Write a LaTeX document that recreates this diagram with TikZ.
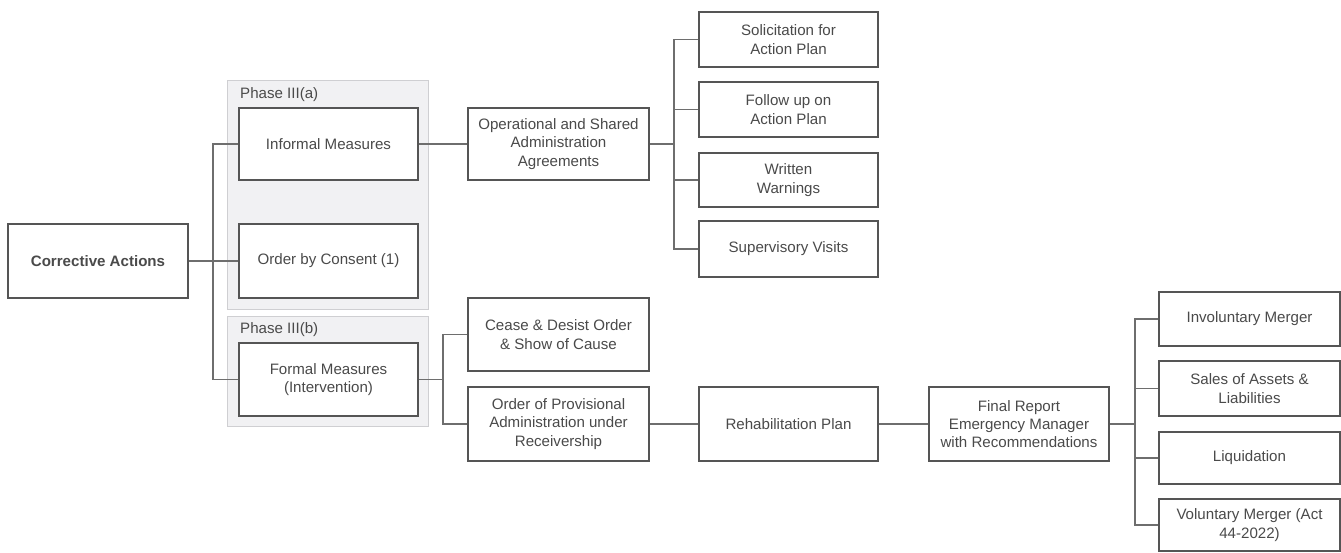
\documentclass[tikz,border=0pt]{standalone}
\usepackage{fontspec}
\setmainfont{Liberation Sans}
\usetikzlibrary{positioning}
\definecolor{boxline}{HTML}{555555}
\definecolor{conline}{HTML}{6E6E6E}
\definecolor{txt}{HTML}{4A4A4A}
\definecolor{phasefill}{HTML}{F1F1F3}
\definecolor{phaseline}{HTML}{CFCFD2}
\begin{document}
\begin{tikzpicture}[x=1pt,y=-1pt,
    font=\fontsize{15.1}{18.4}\selectfont,
    box/.style={draw=boxline, line width=1.3pt, fill=white, text=txt, align=center,
      inner sep=2pt, minimum width=180pt, minimum height=74pt},
    smallbox/.style={box, minimum height=55pt},
    phase/.style={draw=phaseline, line width=1pt, fill=phasefill},
    phaselabel/.style={text=txt, anchor=west, inner sep=0pt},
    con/.style={draw=conline, line width=1.3pt}]
  \useasboundingbox (0,0) rectangle (1341,552);

  % phase panels
  \draw[phase] (227,80) rectangle (428,309);
  \draw[phase] (227,316) rectangle (428,426);
  \node[phaselabel] (pa) at (240,95) {Phase III(a)};
  \node[phaselabel] (pb) at (240,330) {Phase III(b)};

  % first column
  \node[box] (ca) at (98,261) {\textbf{Corrective Actions}};
  \node[box, minimum width=179pt, minimum height=72pt] (inf) at (328.5,144) {Informal Measures};
  \node[box, minimum width=179pt] (obc) at (328.5,261) {Order by Consent (1)};
  \node[box, minimum width=179pt, minimum height=73pt] (frm) at (328.5,379.5) {Formal Measures\\(Intervention)};

  % second column
  \node[box, minimum width=181pt, minimum height=72pt] (osa) at (558.5,144) {Operational and Shared\\Administration\\Agreements};
  \node[box, minimum width=181pt, minimum height=73pt] (cdo) at (558.5,334.5) {Cease \& Desist Order\\\& Show of Cause};
  \node[box, minimum width=181pt] (opa) at (558.5,424) {Order of Provisional\\Administration under\\Receivership};

  % third column
  \node[smallbox, minimum width=179pt] (sol) at (788.5,39.5) {Solicitation for\\Action Plan};
  \node[smallbox, minimum width=179pt] (fol) at (788.5,109.5) {Follow up on\\Action Plan};
  \node[smallbox, minimum width=179pt, minimum height=54pt] (wrn) at (788.5,180) {Written\\Warnings};
  \node[smallbox, minimum width=179pt, minimum height=56pt] (sup) at (788.5,249) {Supervisory Visits};
  \node[box, minimum width=179pt] (reh) at (788.5,424) {Rehabilitation Plan};

  % fourth and fifth column
  \node[box] (fin) at (1019,424) {Final Report\\Emergency Manager\\with Recommendations};
  \node[smallbox, minimum width=181pt, minimum height=54pt] (inv) at (1249.5,319) {Involuntary Merger};
  \node[smallbox, minimum width=181pt] (sal) at (1249.5,388.5) {Sales of Assets \&\\Liabilities};
  \node[smallbox, minimum width=181pt, minimum height=52pt] (liq) at (1249.5,458) {Liquidation};
  \node[smallbox, minimum width=181pt, minimum height=52pt] (vol) at (1249.5,525) {Voluntary Merger (Act\\44-2022)};

  % branch points
  \coordinate (t1) at (213,261);
  \coordinate (t2) at (674,144);
  \coordinate (t3) at (443,379.5);
  \coordinate (t4) at (1135,424);

  % connectors
  \draw[con] (ca.east) -- (t1) |- (inf.west);
  \draw[con] (t1) -- (obc.west);
  \draw[con] (t1) |- (frm.west);
  \draw[con] (inf.east) -- (osa.west);
  \draw[con] (osa.east) -- (t2) |- (sol.west);
  \draw[con] (t2) |- (fol.west);
  \draw[con] (t2) |- (wrn.west);
  \draw[con] (t2) |- (sup.west);
  \draw[con] (frm.east) -- (t3) |- (cdo.west);
  \draw[con] (t3) |- (opa.west);
  \draw[con] (opa.east) -- (reh.west);
  \draw[con] (reh.east) -- (fin.west);
  \draw[con] (fin.east) -- (t4) |- (inv.west);
  \draw[con] (t4) |- (sal.west);
  \draw[con] (t4) |- (liq.west);
  \draw[con] (t4) |- (vol.west);
\end{tikzpicture}
\end{document}
